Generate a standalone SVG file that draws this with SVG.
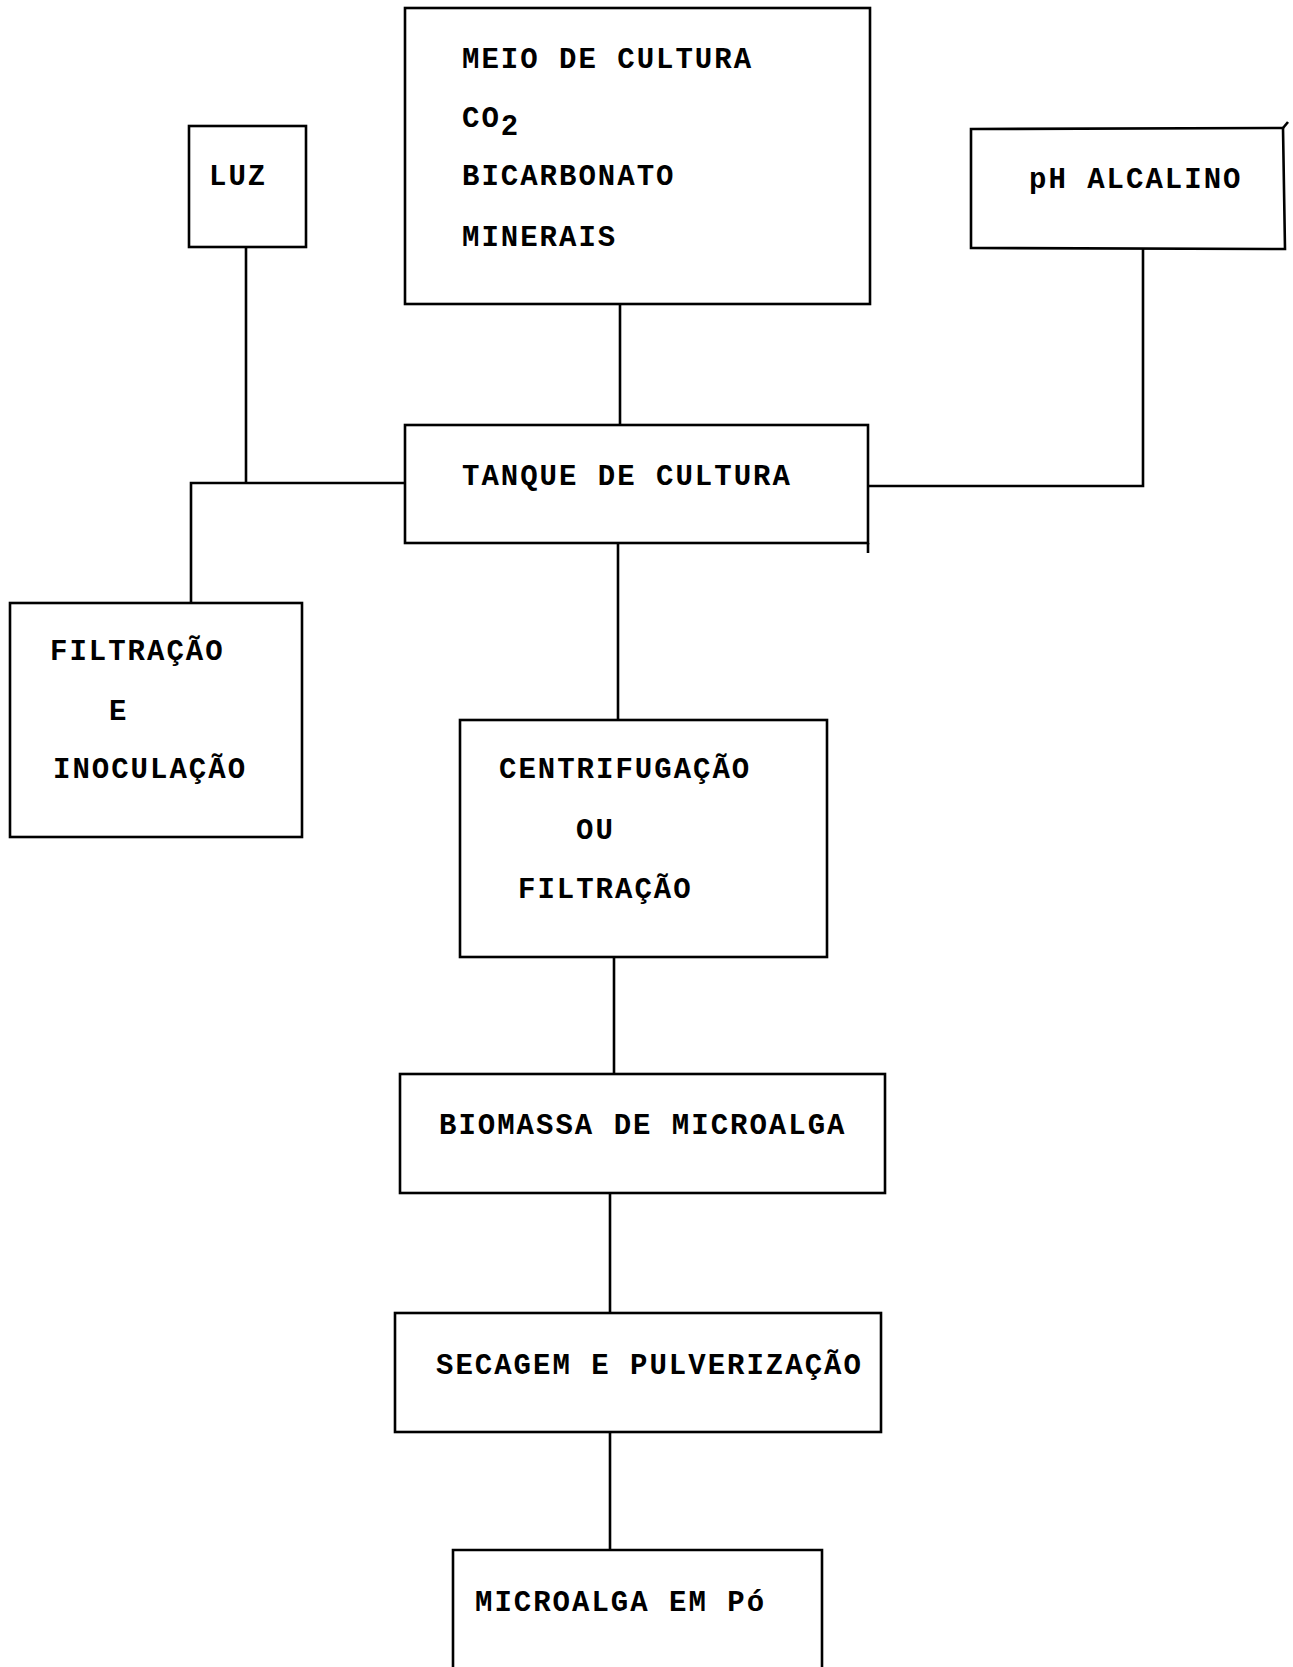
<svg xmlns="http://www.w3.org/2000/svg" width="1293" height="1667" viewBox="0 0 1293 1667">
<style>
.box{fill:none;stroke:#000;stroke-width:2.6;stroke-linejoin:miter}
.ln{fill:none;stroke:#000;stroke-width:2.6}
.t{font-family:"Liberation Mono","DejaVu Sans Mono",monospace;font-size:29px;font-weight:bold;letter-spacing:2px;fill:#000}
</style>
<rect width="1293" height="1667" fill="#fff"/>
<g id="connectors">
<line class="ln" x1="620" y1="304" x2="620" y2="425"/>
<line class="ln" x1="246" y1="247" x2="246" y2="483"/>
<polyline class="ln" points="191,603 191,483 405,483"/>
<polyline class="ln" points="868,486 1143,486 1143,249"/>
<line class="ln" x1="618" y1="543" x2="618" y2="720"/>
<line class="ln" x1="614" y1="957" x2="614" y2="1074"/>
<line class="ln" x1="610" y1="1193" x2="610" y2="1313"/>
<line class="ln" x1="610" y1="1432" x2="610" y2="1550"/>
</g>
<g id="meio">
<rect class="box" x="405" y="8" width="465" height="296"/>
<text class="t" x="462" y="68">MEIO DE CULTURA</text>
<text class="t" x="462" y="127">CO<tspan dy="8">2</tspan></text>
<text class="t" x="462" y="185">BICARBONATO</text>
<text class="t" x="462" y="246">MINERAIS</text>
</g>
<g id="luz">
<rect class="box" x="189" y="126" width="117" height="121"/>
<text class="t" x="209" y="185">LUZ</text>
</g>
<g id="ph">
<polygon class="box" points="971,129 1283,128 1285,249 971,248"/>
<line class="ln" x1="1283" y1="128" x2="1288" y2="122"/>
<text class="t" x="1029" y="188">pH ALCALINO</text>
</g>
<g id="tanque">
<rect class="box" x="405" y="425" width="463" height="118"/>
<line class="ln" x1="868" y1="543" x2="868" y2="553"/>
<text class="t" x="462" y="485">TANQUE DE CULTURA</text>
</g>
<g id="filtracao-inoculacao">
<rect class="box" x="10" y="603" width="292" height="234"/>
<text class="t" x="50" y="660">FILTRAÇÃO</text>
<text class="t" x="109" y="720">E</text>
<text class="t" x="53" y="778">INOCULAÇÃO</text>
</g>
<g id="centrifugacao">
<rect class="box" x="460" y="720" width="367" height="237"/>
<text class="t" x="499" y="778">CENTRIFUGAÇÃO</text>
<text class="t" x="576" y="839">OU</text>
<text class="t" x="518" y="898">FILTRAÇÃO</text>
</g>
<g id="biomassa">
<rect class="box" x="400" y="1074" width="485" height="119"/>
<text class="t" x="439" y="1134">BIOMASSA DE MICROALGA</text>
</g>
<g id="secagem">
<rect class="box" x="395" y="1313" width="486" height="119"/>
<text class="t" x="436" y="1374">SECAGEM E PULVERIZAÇÃO</text>
</g>
<g id="microalga-po">
<polyline class="box" points="453,1667 453,1550 822,1550 822,1667"/>
<text class="t" x="475" y="1611">MICROALGA EM Pó</text>
</g>
</svg>
